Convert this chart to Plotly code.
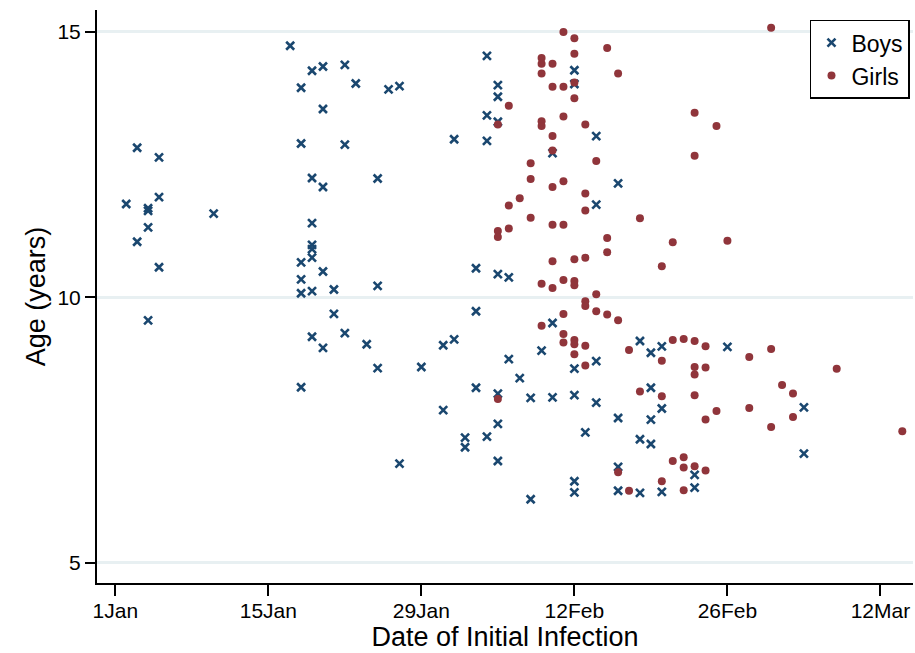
import plotly.graph_objects as go

# ---------------- data ----------------
boys_date = [
    "2009-01-17", "2009-01-19", "2009-01-20", "2009-01-22", "2009-01-23", "2009-01-18",
    "2009-01-26", "2009-01-27", "2009-01-20", "2009-01-18", "2009-01-22", "2009-02-01",
    "2009-01-03", "2009-01-05", "2009-01-19", "2009-01-25", "2009-01-20", "2009-01-05",
    "2009-01-02", "2009-01-04", "2009-01-04", "2009-01-10", "2009-01-19", "2009-01-04",
    "2009-01-03", "2009-01-19", "2009-01-19", "2009-01-19", "2009-01-18", "2009-01-05",
    "2009-01-20", "2009-01-18", "2009-01-18", "2009-01-19", "2009-01-21", "2009-01-25",
    "2009-01-04", "2009-01-21", "2009-01-19", "2009-01-22", "2009-01-20", "2009-01-24",
    "2009-01-25", "2009-01-29", "2009-01-31", "2009-02-01", "2009-02-03", "2009-01-18",
    "2009-02-03", "2009-01-31", "2009-02-02", "2009-02-02", "2009-02-04", "2009-01-27",
    "2009-02-04", "2009-02-12", "2009-02-12", "2009-02-05", "2009-02-05", "2009-02-04",
    "2009-02-05", "2009-02-14", "2009-02-04", "2009-02-10", "2009-02-16", "2009-02-14",
    "2009-02-03", "2009-02-05", "2009-02-06", "2009-02-10", "2009-02-09", "2009-02-06",
    "2009-02-14", "2009-02-12", "2009-02-07", "2009-02-05", "2009-02-08", "2009-02-10",
    "2009-02-12", "2009-02-14", "2009-02-05", "2009-02-16", "2009-02-13", "2009-02-05",
    "2009-02-16", "2009-02-12", "2009-02-12", "2009-02-16", "2009-02-08", "2009-02-18",
    "2009-02-19", "2009-02-20", "2009-02-26", "2009-02-19", "2009-02-20", "2009-03-05",
    "2009-02-19", "2009-02-18", "2009-02-19", "2009-03-05", "2009-02-23", "2009-02-18",
    "2009-02-20", "2009-02-23",
]
boys_age = [
    14.74, 14.27, 14.35, 14.38, 14.03, 13.95,
    13.92, 13.98, 13.55, 12.90, 12.88, 12.98,
    12.82, 12.64, 12.25, 12.24, 12.08, 11.89,
    11.76, 11.68, 11.63, 11.58, 11.40, 11.32,
    11.05, 10.99, 10.91, 10.75, 10.66, 10.57,
    10.49, 10.34, 10.08, 10.12, 10.15, 10.22,
    9.57, 9.69, 9.26, 9.33, 9.05, 9.12,
    8.67, 8.69, 9.10, 9.21, 9.74, 8.31,
    8.30, 7.88, 7.36, 7.18, 7.38, 6.87,
    14.55, 14.28, 14.02, 14.00, 13.78, 13.43,
    13.31, 13.04, 12.95, 12.72, 12.15, 11.75,
    10.55, 10.44, 10.38, 9.52, 9.00, 8.84,
    8.80, 8.66, 8.48, 8.19, 8.11, 8.12,
    8.16, 8.02, 7.62, 7.73, 7.46, 6.92,
    6.81, 6.54, 6.33, 6.36, 6.20, 9.18,
    8.96, 9.08, 9.07, 8.30, 7.91, 7.93,
    7.70, 7.33, 7.24, 7.06, 6.66, 6.32,
    6.34, 6.42,
]

girls_date = [
    "2009-02-11", "2009-02-12", "2009-02-15", "2009-02-12", "2009-02-09", "2009-02-09",
    "2009-02-10", "2009-02-09", "2009-02-16", "2009-02-12", "2009-02-10", "2009-02-11",
    "2009-02-12", "2009-02-06", "2009-02-11", "2009-02-09", "2009-02-09", "2009-02-13",
    "2009-02-05", "2009-02-10", "2009-02-10", "2009-02-14", "2009-02-08", "2009-02-08",
    "2009-02-11", "2009-02-10", "2009-02-13", "2009-02-07", "2009-02-06", "2009-02-13",
    "2009-02-08", "2009-02-10", "2009-02-11", "2009-02-06", "2009-02-05", "2009-02-05",
    "2009-02-15", "2009-02-15", "2009-02-10", "2009-02-12", "2009-02-13", "2009-02-11",
    "2009-02-09", "2009-02-12", "2009-02-12", "2009-02-10", "2009-02-14", "2009-02-13",
    "2009-02-13", "2009-02-14", "2009-02-15", "2009-02-11", "2009-02-16", "2009-02-09",
    "2009-02-11", "2009-02-11", "2009-02-12", "2009-02-12", "2009-02-13", "2009-02-12",
    "2009-02-13", "2009-02-05", "2009-02-16", "2009-03-02", "2009-02-23", "2009-02-25",
    "2009-02-23", "2009-02-18", "2009-02-21", "2009-02-26", "2009-02-20", "2009-02-17",
    "2009-02-21", "2009-02-22", "2009-02-23", "2009-02-24", "2009-02-20", "2009-02-23",
    "2009-02-24", "2009-02-23", "2009-02-28", "2009-03-02", "2009-03-08", "2009-02-18",
    "2009-02-20", "2009-02-23", "2009-03-03", "2009-03-04", "2009-02-28", "2009-02-25",
    "2009-02-24", "2009-03-04", "2009-03-02", "2009-03-14", "2009-02-21", "2009-02-22",
    "2009-02-22", "2009-02-23", "2009-02-24", "2009-02-20", "2009-02-17", "2009-02-22",
]
girls_age = [
    15.00, 14.88, 14.70, 14.59, 14.51, 14.40,
    14.40, 14.22, 14.22, 14.05, 13.97, 13.97,
    13.75, 13.61, 13.41, 13.32, 13.23, 13.26,
    13.26, 13.04, 12.77, 12.57, 12.53, 12.23,
    12.19, 12.08, 11.96, 11.87, 11.73, 11.64,
    11.50, 11.37, 11.37, 11.30, 11.25, 11.14,
    11.12, 10.85, 10.68, 10.72, 10.75, 10.33,
    10.26, 10.31, 10.23, 10.18, 10.06, 9.93,
    9.84, 9.74, 9.68, 9.69, 9.57, 9.47,
    9.31, 9.15, 9.20, 9.12, 9.09, 8.93,
    8.72, 8.09, 6.71, 15.08, 13.48, 13.23,
    12.67, 11.49, 11.04, 11.07, 10.59, 9.01,
    9.20, 9.22, 9.18, 9.08, 8.81, 8.69,
    8.68, 8.55, 8.88, 9.03, 8.66, 8.23,
    8.14, 8.16, 8.35, 8.19, 7.92, 7.86,
    7.70, 7.75, 7.56, 7.48, 6.92, 6.99,
    6.80, 6.82, 6.74, 6.54, 6.36, 6.37,
]

tick_dates = ["2009-01-01", "2009-01-15", "2009-01-29", "2009-02-12", "2009-02-26", "2009-03-12"]
tick_labels = ["1Jan", "15Jan", "29Jan", "12Feb", "26Feb", "12Mar"]
y_ticks = [5, 10, 15]

# ---------------- figure ----------------
FONT = "Liberation Sans, Arial, Helvetica, sans-serif"
fig = go.Figure()
fig.add_trace(go.Scatter(
    x=boys_date, y=boys_age, mode="markers", name="Boys",
    marker=dict(symbol="x-thin", size=8, color="#1a476f",
                line=dict(color="#1a476f", width=2.6)),
))
fig.add_trace(go.Scatter(
    x=girls_date, y=girls_age, mode="markers", name="Girls",
    marker=dict(symbol="circle", size=8, color="#90353b", line=dict(width=0)),
))

fig.update_layout(
    width=915, height=653,
    margin=dict(l=97, r=2, t=10, b=70),
    paper_bgcolor="white", plot_bgcolor="white",
    font=dict(family=FONT, color="black"),
    showlegend=True,
    legend=dict(
        x=0.9963, y=0.983, xanchor="right", yanchor="top",
        bgcolor="white", bordercolor="black", borderwidth=1.5,
        font=dict(size=23, family=FONT, color="black"),
        itemwidth=30, tracegroupgap=4,
    ),
    xaxis=dict(
        type="date",
        range=["2008-12-30 07:50", "2009-03-14 23:30"],
        tickmode="array", tickvals=tick_dates, ticktext=tick_labels,
        ticks="outside", ticklen=11, tickwidth=1.5, tickcolor="black",
        ticklabelstandoff=-3,
        showline=True, linecolor="black", linewidth=2,
        showgrid=False, zeroline=False,
        tickfont=dict(size=21, family=FONT),
        title=dict(text="Date of Initial Infection", font=dict(size=27, family=FONT), standoff=6),
    ),
    yaxis=dict(
        range=[4.623, 15.414],
        tickmode="array", tickvals=y_ticks, ticktext=[str(v) for v in y_ticks],
        ticks="outside", ticklen=10, tickwidth=1.5, tickcolor="black",
        showline=True, linecolor="black", linewidth=2,
        showgrid=True, gridcolor="#e8f0f2", gridwidth=2.5,
        zeroline=False,
        tickfont=dict(size=21, family=FONT),
        title=dict(text="Age (years)", font=dict(size=27, family=FONT), standoff=4),
    ),
)

fig.write_html("out.html")
